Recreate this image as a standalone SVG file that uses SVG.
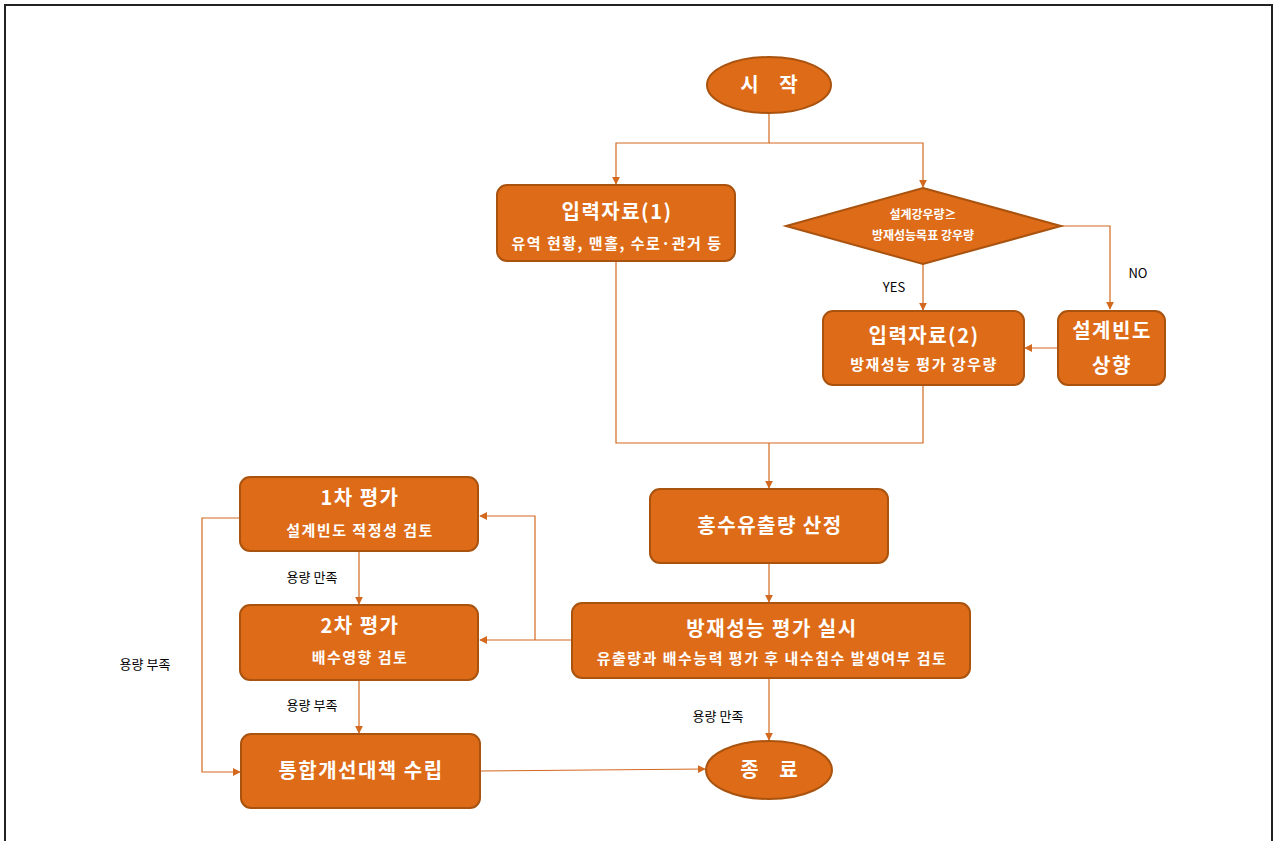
<svg xmlns="http://www.w3.org/2000/svg" width="1274" height="841" viewBox="0 0 1274 841">
<style>
.n{fill:#DE6B18;stroke:#A9530F;stroke-width:2}
.t{fill:#fff;font-family:"Noto Sans CJK KR","Noto Sans",sans-serif;font-weight:bold;text-anchor:middle}
.h{font-size:20px;letter-spacing:1.5px}
.s{font-size:15px;letter-spacing:1.5px}
.w{letter-spacing:8px}
.c{fill:none;stroke:#D2691E;stroke-width:1.2}
.l{fill:#000;font-family:"Noto Sans CJK KR","Noto Sans",sans-serif;font-size:13px;text-anchor:middle}
</style>
<defs>
<marker id="a" viewBox="0 0 10 10" refX="9" refY="5" markerWidth="8" markerHeight="8" markerUnits="userSpaceOnUse" orient="auto"><path d="M0,0L10,5L0,10z" fill="#D2691E"/></marker>
</defs>
<rect x="0" y="0" width="1274" height="841" fill="#fff"/>
<path d="M5,850V5H1272V850" fill="none" stroke="#222" stroke-width="2"/>
<g id="connectors">
<path class="c" d="M769,113V143H616V184" marker-end="url(#a)"/>
<path class="c" d="M769,143H923V187" marker-end="url(#a)"/>
<path class="c" d="M1061,226H1110V309" marker-end="url(#a)"/>
<path class="c" d="M923,264V310" marker-end="url(#a)"/>
<path class="c" d="M1058,348H1025" marker-end="url(#a)"/>
<path class="c" d="M616,261V443H923V385"/>
<path class="c" d="M769,443V488" marker-end="url(#a)"/>
<path class="c" d="M769,563V602" marker-end="url(#a)"/>
<path class="c" d="M572,640H480" marker-end="url(#a)"/>
<path class="c" d="M535,640V516H480" marker-end="url(#a)"/>
<path class="c" d="M240,518H202V772H240" marker-end="url(#a)"/>
<path class="c" d="M359,551V604" marker-end="url(#a)"/>
<path class="c" d="M359,680V733" marker-end="url(#a)"/>
<path class="c" d="M480,771L705,769" marker-end="url(#a)"/>
<path class="c" d="M769,678V740" marker-end="url(#a)"/>
<text class="l" x="894" y="292">YES</text>
<text class="l" x="1138" y="278">NO</text>
<text class="l" x="145" y="669">용량 부족</text>
<text class="l" x="312" y="582">용량 만족</text>
<text class="l" x="312" y="710">용량 부족</text>
<text class="l" x="718" y="721">용량 만족</text>
</g>
<g id="start">
<ellipse class="n" cx="769" cy="85" rx="62" ry="28"/>
<text class="t h w" x="773" y="92">시 작</text>
</g>
<g id="input1">
<rect class="n" x="497" y="185" width="238" height="76" rx="10"/>
<text class="t h" x="617" y="219">입력자료(1)</text>
<text class="t s" x="617" y="249">유역 현황, 맨홀, 수로·관거 등</text>
</g>
<g id="decision">
<polygon class="n" points="923,188 1061,226 923,264 786,226"/>
<text class="t" x="923" y="219" style="font-size:12px">설계강우량≥</text>
<text class="t" x="923" y="240" style="font-size:12px">방재성능목표 강우량</text>
</g>
<g id="input2">
<rect class="n" x="823" y="311" width="201" height="74" rx="10"/>
<text class="t h" x="924" y="343">입력자료(2)</text>
<text class="t s" x="924" y="370">방재성능 평가 강우량</text>
</g>
<g id="raise">
<rect class="n" x="1058" y="311" width="107" height="74" rx="10"/>
<text class="t h" x="1112" y="338">설계빈도</text>
<text class="t h" x="1112" y="373">상향</text>
</g>
<g id="runoff">
<rect class="n" x="650" y="489" width="238" height="74" rx="10"/>
<text class="t h" x="770" y="533">홍수유출량 산정</text>
</g>
<g id="eval">
<rect class="n" x="572" y="603" width="398" height="75" rx="10"/>
<text class="t h" x="772" y="636">방재성능 평가 실시</text>
<text class="t s" x="772" y="664">유출량과 배수능력 평가 후 내수침수 발생여부 검토</text>
</g>
<g id="eval1">
<rect class="n" x="240" y="477" width="238" height="74" rx="10"/>
<text class="t h" x="360" y="505">1차 평가</text>
<text class="t s" x="360" y="536">설계빈도 적정성 검토</text>
</g>
<g id="eval2">
<rect class="n" x="240" y="605" width="238" height="75" rx="10"/>
<text class="t h" x="360" y="633">2차 평가</text>
<text class="t s" x="360" y="663">배수영향 검토</text>
</g>
<g id="plan">
<rect class="n" x="241" y="734" width="239" height="74" rx="10"/>
<text class="t h" x="361" y="778">통합개선대책 수립</text>
</g>
<g id="end">
<ellipse class="n" cx="769" cy="770" rx="63" ry="29"/>
<text class="t h w" x="773" y="777">종 료</text>
</g>
</svg>
